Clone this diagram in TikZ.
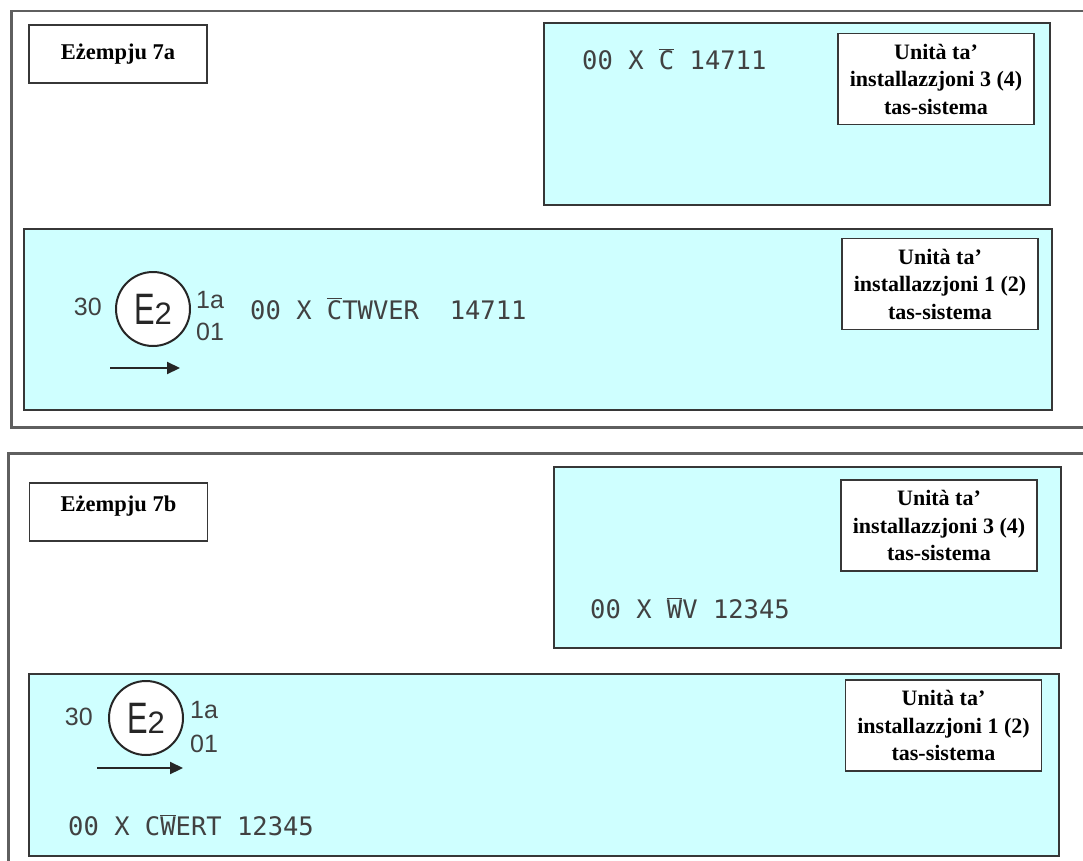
\documentclass[tikz,border=0pt]{standalone}
\usepackage{fontspec}
\setmainfont{Liberation Serif}
\newfontfamily\codefont{DejaVu Sans Mono}
\newfontfamily\arialfont{Liberation Sans}
\newfontfamily\narrowfont[FakeStretch=0.7]{Liberation Sans}
\usetikzlibrary{arrows.meta}
\definecolor{cyanfill}{RGB}{207,255,255}
\definecolor{panelgray}{RGB}{95,95,95}
\definecolor{boxgray}{RGB}{55,55,55}
\definecolor{codegray}{RGB}{65,65,65}
\newcommand\ovl[1]{\ensuremath{\overline{\hbox{#1}}}}
\newcommand\emark{{\fontsize{44}{44}\narrowfont E}{\fontsize{31}{31}\arialfont 2}}
\begin{document}
\begin{tikzpicture}[x=1pt,y=-1pt,
  panel/.style={draw=panelgray, line width=2.5pt, anchor=north west, inner sep=0pt},
  unitbox/.style={draw=boxgray, fill=cyanfill, line width=2pt, anchor=north west, inner sep=0pt},
  labelbox/.style={draw=boxgray, fill=white, line width=1.5pt, minimum width=196pt, minimum height=91pt, inner sep=0pt, align=center, font=\fontsize{22}{27.5}\selectfont\bfseries},
  titlebox/.style={draw=boxgray, fill=white, line width=1.5pt, minimum width=178pt, minimum height=58pt, inner sep=0pt, font=\fontsize{22.5}{27}\selectfont\bfseries},
  code/.style={anchor=base west, inner sep=0pt, text=codegray, font=\fontsize{25.5}{30}\codefont},
  emblem/.style={circle, draw=black!85, line width=2pt, fill=white, minimum size=74pt, inner sep=0pt, text=black!85},
  small/.style={inner sep=0pt, text=codegray, font=\fontsize{25}{25}\arialfont},
  dirarrow/.style={-{Triangle[length=13pt,width=12pt]}, line width=2.2pt, black!85}
]
\useasboundingbox (0,0) rectangle (1083,861);
\clip (0,0) rectangle (1083,861);
\fill[white] (0,0) rectangle (1083,861);

% ---------- Example 7a ----------
\node[panel, minimum width=1085pt, minimum height=416pt] (pA) at (10,10) {};
\node[titlebox] (tA) at (118,54) {Eżempju 7a};

\node[unitbox, minimum width=506pt, minimum height=182pt] (uA3) at (543,22) {};
\node[labelbox] (lA3) at (936,79) {Unità ta’\\installazzjoni 3 (4)\\tas-sistema};
\node[code] (cA3) at (582,70) {00 X \ovl{C} 14711};

\node[unitbox, minimum width=1028pt, minimum height=181pt] (uA1) at (23,228) {};
\node[labelbox] (lA1) at (940,284) {Unità ta’\\installazzjoni 1 (2)\\tas-sistema};
\node[emblem] (eA) at (153,309) {\emark};
\node[small, anchor=base east] (nA30) at (102,315) {30};
\node[small, anchor=base west] (nA1a) at (196,308) {1a};
\node[small, anchor=base west] (nA01) at (196,340) {01};
\node[code] (cA1) at (250,319) {00 X \ovl{C}TWVER\ \ 14711};
\coordinate (arAs) at (110,368);
\coordinate (arAe) at (180,368);
\draw[dirarrow] (arAs) -- (arAe);

% ---------- Example 7b ----------
\node[panel, minimum width=1088pt, minimum height=430pt] (pB) at (7,452) {};
\node[titlebox, text depth=16pt] (tB) at (118.5,512) {Eżempju 7b};

\node[unitbox, minimum width=507pt, minimum height=181pt] (uB3) at (553,466) {};
\node[labelbox] (lB3) at (939,525.5) {Unità ta’\\installazzjoni 3 (4)\\tas-sistema};
\node[code] (cB3) at (590,618) {00 X \ovl{W}V 12345};

\node[unitbox, minimum width=1030pt, minimum height=182pt] (uB1) at (28,673) {};
\node[labelbox] (lB1) at (943.5,725.5) {Unità ta’\\installazzjoni 1 (2)\\tas-sistema};
\node[emblem] (eB) at (146,718) {\emark};
\node[small, anchor=base east] (nB30) at (93,725) {30};
\node[small, anchor=base west] (nB1a) at (190,718) {1a};
\node[small, anchor=base west] (nB01) at (190,752) {01};
\node[code] (cB1) at (68,835) {00 X C\ovl{W}ERT 12345};
\coordinate (arBs) at (97,768);
\coordinate (arBe) at (183,768);
\draw[dirarrow] (arBs) -- (arBe);
\end{tikzpicture}
\end{document}
